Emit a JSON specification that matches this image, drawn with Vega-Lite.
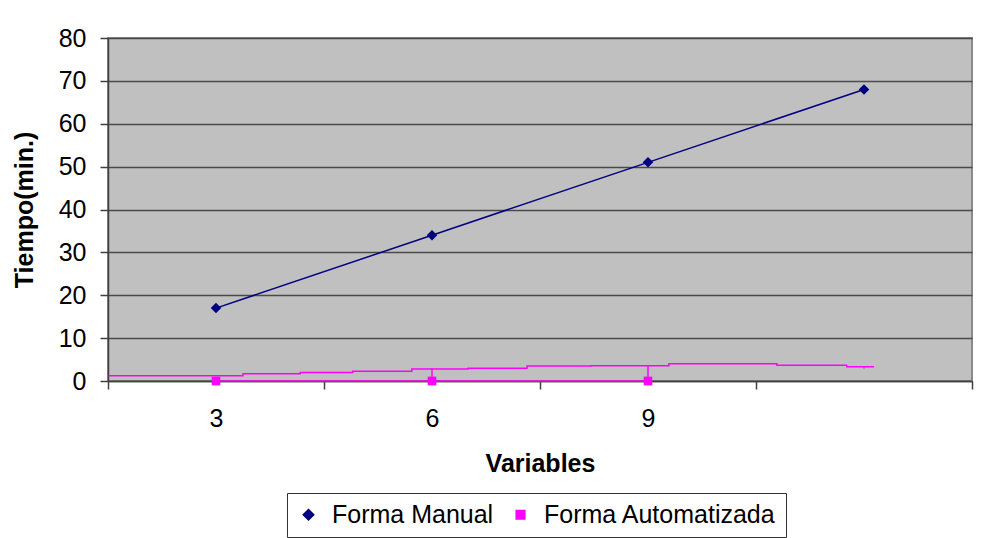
{
  "$schema": "https://vega.github.io/schema/vega-lite/v6.json",
  "autosize": {"type": "none"},
  "width": 864,
  "height": 343,
  "padding": {"left": 108, "top": 38, "right": 33, "bottom": 157},
  "background": "white",
  "datasets": {
    "main": [
      {"Variables": 3, "Tiempo": 17, "serie": "Forma Manual"},
      {"Variables": 6, "Tiempo": 34, "serie": "Forma Manual"},
      {"Variables": 9, "Tiempo": 51, "serie": "Forma Manual"},
      {"Variables": 12, "Tiempo": 68, "serie": "Forma Manual"},
      {"Variables": 3, "Tiempo": 0, "serie": "Forma Automatizada"},
      {"Variables": 6, "Tiempo": 0, "serie": "Forma Automatizada"},
      {"Variables": 9, "Tiempo": 0, "serie": "Forma Automatizada"}
    ],
    "trazo": [
      {"Variables": 1.51, "Tiempo": 1.24},
      {"Variables": 3.375, "Tiempo": 1.7},
      {"Variables": 4.17, "Tiempo": 2.0},
      {"Variables": 4.9, "Tiempo": 2.3},
      {"Variables": 5.72, "Tiempo": 2.8},
      {"Variables": 6.5, "Tiempo": 2.96},
      {"Variables": 7.32, "Tiempo": 3.5},
      {"Variables": 8.21, "Tiempo": 3.57},
      {"Variables": 9.29, "Tiempo": 4.0},
      {"Variables": 10.79, "Tiempo": 3.7},
      {"Variables": 11.76, "Tiempo": 3.3},
      {"Variables": 12.14, "Tiempo": 3.3}
    ],
    "marcas": [
      {"Variables": 6, "desde": 0, "hasta": 2.9},
      {"Variables": 9, "desde": 0, "hasta": 3.7},
      {"Variables": 12, "desde": 2.9, "hasta": 3.3}
    ]
  },
  "config": {
    "font": "Liberation Sans",
    "view": {"fill": "#c0c0c0", "stroke": "#8a8a8a", "strokeWidth": 2},
    "axis": {
      "labelFont": "Liberation Sans",
      "labelFontSize": 25,
      "labelColor": "#000000",
      "titleFont": "Liberation Sans",
      "titleFontSize": 25,
      "titleFontWeight": "bold",
      "titleColor": "#000000",
      "domainColor": "#404040",
      "domainWidth": 1.5,
      "tickColor": "#404040",
      "tickWidth": 1.5,
      "zindex": 0
    }
  },
  "resolve": {"axis": {"x": "independent"}},
  "layer": [
    {
      "data": {"name": "main"},
      "mark": {"type": "line", "strokeWidth": 1.5},
      "encoding": {
        "x": {
          "field": "Variables", "type": "quantitative",
          "scale": {"domain": [1.5, 13.5], "nice": false, "zero": false},
          "axis": {"orient": "bottom", "values": [1.5, 4.5, 7.5, 10.5, 13.5], "labels": false, "tickSize": 8, "grid": false, "title": null}
        },
        "y": {
          "field": "Tiempo", "type": "quantitative",
          "scale": {"domain": [0, 80], "nice": false},
          "axis": {
            "values": [0, 10, 20, 30, 40, 50, 60, 70, 80],
            "grid": true, "gridColor": "#4a4a4a", "gridWidth": 1.5,
            "tickSize": 8, "labelPadding": 14,
            "title": "Tiempo(min.)", "titleX": -71
          }
        },
        "color": {
          "field": "serie", "type": "nominal",
          "scale": {"domain": ["Forma Manual", "Forma Automatizada"], "range": ["#000080", "#ff00ff"]},
          "legend": {
            "title": null, "orient": "none", "legendX": 179, "legendY": 455, "direction": "horizontal",
            "strokeColor": "#333333", "fillColor": "#ffffff", "padding": 9,
            "symbolSize": 2025, "symbolStrokeWidth": 1.5,
            "labelFontSize": 25, "labelFont": "Liberation Sans", "labelColor": "#000000",
            "labelOffset": 11, "columnPadding": 14, "labelLimit": 500,
            "encode": {
              "symbols": {
                "update": {
                  "fill": {"scale": "color", "field": "value"},
                  "stroke": {"scale": "color", "field": "value"},
                  "strokeWidth": {"value": 1.5},
                  "size": {"value": 2025},
                  "shape": {"signal": "datum.value == 'Forma Manual' ? 'M-1,0H1M0,-0.19L0.19,0L0,0.19L-0.19,0Z' : 'M-1,0H1M-0.16,-0.16H0.16V0.16H-0.16Z'"}
                }
              }
            }
          }
        }
      }
    },
    {
      "data": {"name": "trazo"},
      "mark": {"type": "line", "interpolate": "step-after", "color": "#ff00ff", "strokeWidth": 1.5},
      "encoding": {
        "x": {"field": "Variables", "type": "quantitative", "axis": null},
        "y": {"field": "Tiempo", "type": "quantitative"}
      }
    },
    {
      "data": {"name": "marcas"},
      "mark": {"type": "rule", "color": "#ff00ff", "strokeWidth": 1.5},
      "encoding": {
        "x": {"field": "Variables", "type": "quantitative", "axis": null},
        "y": {"field": "desde", "type": "quantitative"},
        "y2": {"field": "hasta"}
      }
    },
    {
      "data": {"name": "main"},
      "mark": {"type": "point", "filled": true, "opacity": 1},
      "encoding": {
        "x": {
          "field": "Variables", "type": "quantitative",
          "axis": {"orient": "bottom", "values": [3, 6, 9], "ticks": false, "tickSize": 0, "domain": false, "grid": false, "labelPadding": 25,
                   "title": "Variables", "titleY": 70}
        },
        "y": {"field": "Tiempo", "type": "quantitative"},
        "color": {"field": "serie", "type": "nominal", "legend": null},
        "shape": {
          "field": "serie", "type": "nominal",
          "scale": {"domain": ["Forma Manual", "Forma Automatizada"], "range": ["diamond", "square"]},
          "legend": null
        },
        "size": {
          "field": "serie", "type": "nominal",
          "scale": {"domain": ["Forma Manual", "Forma Automatizada"], "range": [110, 75]},
          "legend": null
        }
      }
    }
  ]
}
